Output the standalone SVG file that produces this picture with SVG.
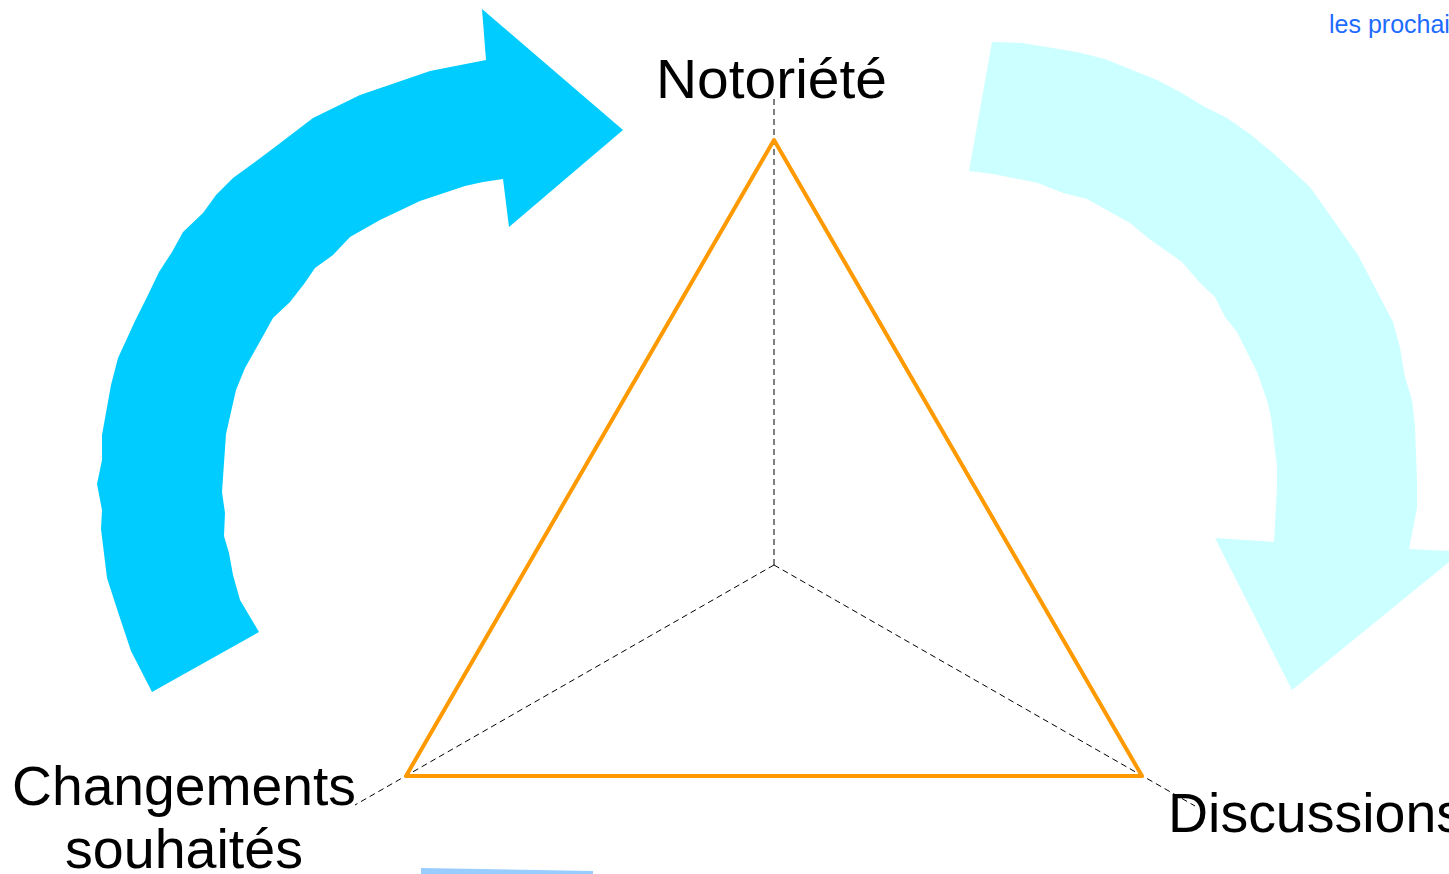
<svg xmlns="http://www.w3.org/2000/svg" width="1449" height="874" viewBox="0 0 1449 874">
<style>
.lbl{font-family:"Liberation Sans",Arial,sans-serif;font-size:55px;fill:#000}
.axis{stroke:#000;stroke-width:1;stroke-dasharray:6 4;fill:none}
.tri{stroke:#FF9900;stroke-width:4;fill:none;stroke-linejoin:round}
.note{font-family:"Liberation Sans",Arial,sans-serif;font-size:25px;fill:#1E6BFF}
</style>
<rect width="1449" height="874" fill="#fff"/>
<g id="arrow-left">
<polygon fill="#00CCFF" points="482,9 623,130 509,227 503,179 483,182 465,186 420,201 380,220 350,237 333,255 315,268 304,284 290,302 273,318 258,345 245,368 236,390 226,434 222,492 225,513 224,536 229,553 233,575 240,600 259,632 152,692 131,651 118,612 107,578 101,529 102,510 97,484 102,460 102,435 111,385 118,358 135,321 147,297 159,272 172,252 183,232 203,213 216,195 233,178 255,162 275,147 313,118 360,95 430,71 486,60"/>
</g>
<g id="arrow-right">
<polygon fill="#CCFFFF" points="992,42 1022,43 1077,52 1105,59 1157,80 1180,92 1203,106 1227,118 1250,134 1273,153 1310,187 1358,255 1393,322 1400,348 1405,377 1412,400 1415,427 1417,480 1417,508 1409,549 1449,551 1449,562 1292,690 1215,538 1274,542 1277,487 1277,467 1271,417 1267,400 1257,372 1237,332 1225,317 1215,297 1200,283 1182,262 1148,238 1130,223 1087,199 1063,193 1038,183 993,174 969,171"/>
</g>
<g id="connectors">
<line class="axis" x1="774" y1="565" x2="774" y2="95"/>
<line class="axis" x1="774" y1="565" x2="355" y2="805"/>
<line class="axis" x1="774" y1="565" x2="1195" y2="806"/>
</g>
<g id="triangle">
<polygon class="tri" points="774,140 1142,776 406,776"/>
</g>
<g id="node-notoriete">
<text class="lbl" x="656" y="98" textLength="231" lengthAdjust="spacingAndGlyphs">Notoriété</text>
</g>
<g id="node-changements">
<text class="lbl" x="12" y="805" textLength="344" lengthAdjust="spacingAndGlyphs">Changements</text>
<text class="lbl" x="65" y="868" textLength="238" lengthAdjust="spacingAndGlyphs">souhaités</text>
</g>
<g id="node-discussions">
<text class="lbl" x="1168" y="832" textLength="296" lengthAdjust="spacingAndGlyphs">Discussions</text>
</g>
<g id="note">
<text class="note" x="1329" y="33">les prochains</text>
</g>
<polygon fill="#99CCFF" points="421,868 593,871 593,874 421,874"/>
</svg>
